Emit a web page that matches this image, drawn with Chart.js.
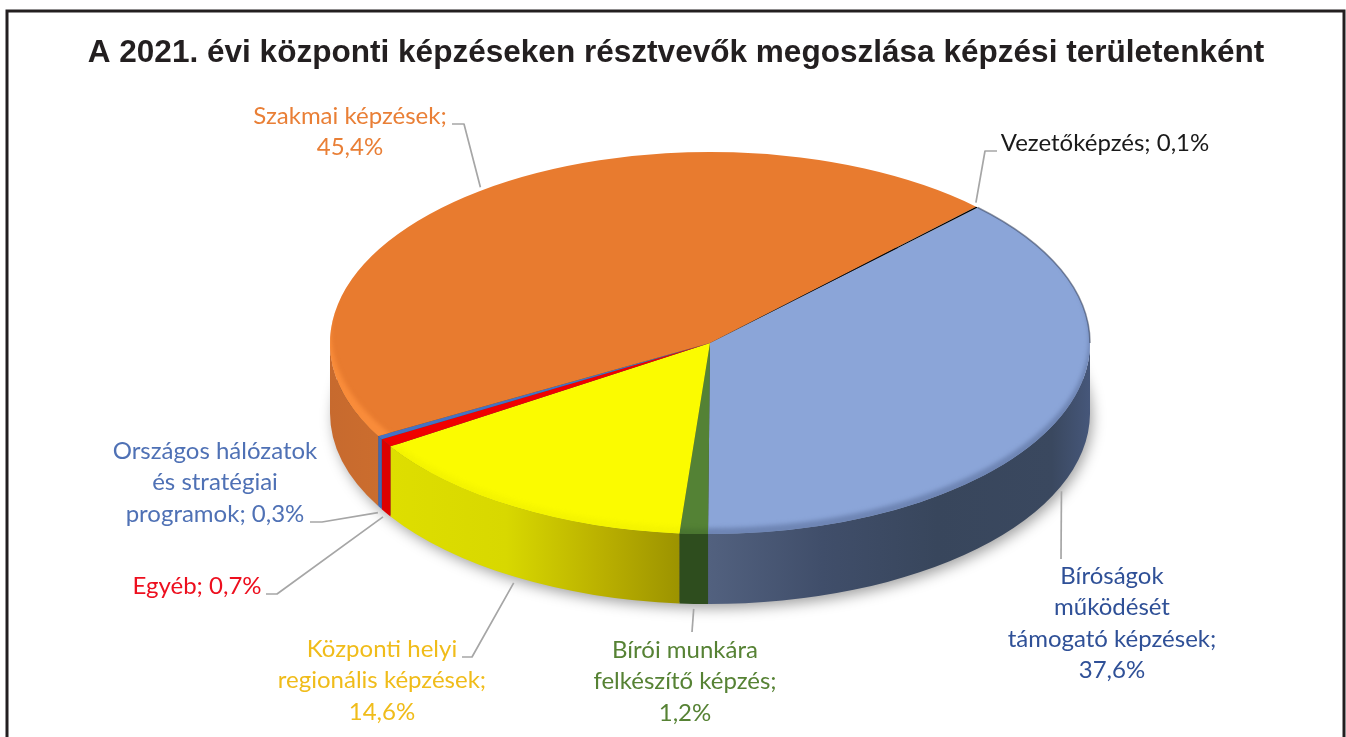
<!DOCTYPE html>
<html lang="hu"><head><meta charset="utf-8">
<style>html,body{margin:0;padding:0;background:#fff}canvas{display:block}</style>
<script src="https://cdn.jsdelivr.net/npm/chart.js@4"></script>
</head><body><canvas id="c" width="1346" height="737"></canvas>
<script>
// ---- data ----
const titleText = 'A 2021. évi központi képzéseken résztvevők megoszlása képzési területenként';
const categories = ['Bíróságok működését támogató képzések','Bírói munkára felkészítő képzés','Központi helyi regionális képzések','Egyéb','Országos hálózatok és stratégiai programok','Szakmai képzések','Vezetőképzés'];
const values = [37.6, 1.2, 14.6, 0.7, 0.3, 45.4, 0.1];
const labelLines = [
  ['Bíróságok','működését','támogató képzések;','37,6%'],
  ['Bírói munkára','felkészítő képzés;','1,2%'],
  ['Központi helyi','regionális képzések;','14,6%'],
  ['Egyéb; 0,7%'],
  ['Országos hálózatok','és stratégiai','programok; 0,3%'],
  ['Szakmai képzések;','45,4%'],
  ['Vezetőképzés; 0,1%']
];
// ---- styles ----
const topColors = ['#8BA5D8','#548235','#FBFB00','#F00000','#4472C4','#E87B2F','#000000'];
const textColors = ['#2F5097','#568234','#F0BC1A','#ED0F1E','#4F71B5','#E97F36','#1A1A1A'];
const sideStops = [
  [[0,'#52617F'],[.3,'#404E6A'],[.6,'#38465C'],[.9,'#3A485F'],[1,'#46577A']],
  [[0,'#2E4D1E'],[1,'#2E4D1E']],
  [[0,'#DEDE00'],[.4,'#D8D800'],[.75,'#B8AE00'],[1,'#9C9300']],
  [[0,'#DD0000'],[1,'#DD0000']],
  [[0,'#4069B5'],[1,'#4069B5']],
  [[0,'#C76A2E'],[.7,'#CA6C2E'],[1,'#CB6D2E']],
  [[0,'#000000'],[1,'#000000']]
];
const bevelColors = ['#6E85B4','#4A7530','#F4F400','#E80000','#4472C4','#F98C3A','#000000'];
const bevelSizes = [5,4,5,0,0,11,0];
// ---- layout ----
const PIE = {cx:710, cy:343, rx:380, tilt:191/380, depth:70};
const ROTATION = 44.8;
const FONT = '24px Lato';
const labelPos = [[1112,576],[685,650],[382,649],[197,586],[215,451],[350,116],[1105,143]];
const lineStep = 31.5;
const leaderStart = [[1061,559],[692,632],[462,657],[266,594],[310,522],[452,124],[997,151]];
const leaderKnee = [null,null,[472,657],[277,594],[322,522],[464,124],[985,151]];
const leaderNudge = [[.5,5],[0,5],[-1,6],[-3,4],[-2,5],[1,-4],[-1,-4.5]];

function frontRanges(a,b){
  const out=[];
  for(let k=-1;k<3;k++){
    const s=Math.max(a,k*2*Math.PI), e=Math.min(b,k*2*Math.PI+Math.PI);
    if(e>s) out.push([s,e]);
  }
  return out;
}
const pie3d = {
  id:'pie3d',
  beforeDraw(chart){
    const c=chart.ctx; c.save();
    c.strokeStyle='#231F20'; c.lineWidth=3;
    c.strokeRect(7,11,1337,800);
    c.restore();
  },
  beforeDatasetsDraw(chart){
    const c=chart.ctx, arcs=chart.getDatasetMeta(0).data;
    const {cx,cy,rx,tilt,depth}=PIE, ry=rx*tilt;
    c.save();
    c.shadowColor='rgba(0,0,0,.38)'; c.shadowBlur=14; c.shadowOffsetX=3; c.shadowOffsetY=5;
    c.fillStyle='#444';
    c.beginPath(); c.ellipse(cx,cy+depth,rx-1,ry-1,0,0,Math.PI*2); c.fill();
    c.restore();
    arcs.forEach((arc,i)=>{
      frontRanges(arc.startAngle,arc.endAngle).forEach(([s,e])=>{
        const x0=cx+rx*Math.cos(s), x1=cx+rx*Math.cos(e);
        const g=c.createLinearGradient(Math.min(x0,x1),0,Math.max(x0,x1)+.01,0);
        sideStops[i].forEach(([p,col])=>g.addColorStop(p,col));
        c.fillStyle=g;
        c.beginPath();
        c.ellipse(cx,cy,rx,ry,0,s,e);
        c.ellipse(cx,cy+depth,rx,ry,0,e,s,true);
        c.closePath(); c.fill();
      });
    });
  },
  beforeDatasetDraw(chart){
    const c=chart.ctx, a=chart.getDatasetMeta(0).data[0];
    c.save();
    c.translate(PIE.cx,PIE.cy); c.scale(1,PIE.tilt); c.translate(-a.x,-a.y);
  },
  afterDatasetDraw(chart){
    const c=chart.ctx, arcs=chart.getDatasetMeta(0).data;
    c.restore();
    const {cx,cy,rx,tilt}=PIE, ry=rx*tilt;
    arcs.forEach((arc,i)=>{
      if(!bevelSizes[i]) return;
      c.save();
      c.beginPath(); c.moveTo(cx,cy);
      c.ellipse(cx,cy,rx,ry,0,arc.startAngle,arc.endAngle);
      c.closePath(); c.clip();
      c.filter='blur(2px)';
      c.fillStyle=bevelColors[i];
      c.beginPath();
      c.ellipse(cx,cy,rx+6,ry+6,0,0,Math.PI*2);
      c.ellipse(cx,cy-bevelSizes[i],rx-1,ry-1,0,0,Math.PI*2);
      c.fill('evenodd');
      c.restore();
    });
  },
  afterDatasetsDraw(chart){
    const c=chart.ctx, arcs=chart.getDatasetMeta(0).data;
    const {cx,cy,rx,tilt,depth}=PIE, ry=rx*tilt;
    c.save();
    c.strokeStyle='rgba(50,60,85,.55)'; c.lineWidth=1.5;
    c.beginPath(); c.ellipse(cx,cy,rx,ry,0,arcs[0].startAngle,0); c.stroke();
    c.restore();
    arcs.forEach((arc,i)=>{
      const m=(arc.startAngle+arc.endAngle)/2, sn=Math.sin(m);
      const ax=cx+rx*Math.cos(m)+leaderNudge[i][0];
      const ay=cy+ry*sn+(sn>0?depth:0)+leaderNudge[i][1];
      c.save();
      c.strokeStyle='#A6A6A6'; c.lineWidth=1.7; c.lineJoin='round';
      c.beginPath(); c.moveTo(leaderStart[i][0],leaderStart[i][1]);
      if(leaderKnee[i]) c.lineTo(leaderKnee[i][0],leaderKnee[i][1]);
      c.lineTo(ax,ay); c.stroke();
      c.font=FONT; c.textAlign='center'; c.textBaseline='middle'; c.fillStyle=textColors[i];
      labelLines[i].forEach((t,k)=>c.fillText(t,labelPos[i][0],labelPos[i][1]+k*lineStep));
      c.restore();
    });
  }
};
new Chart(document.getElementById('c'),{
  type:'pie',
  data:{labels:categories,datasets:[{data:values,backgroundColor:topColors,borderWidth:0,radius:PIE.rx}]},
  options:{
    responsive:false,animation:false,rotation:ROTATION,
    layout:{padding:{left:6,right:0,top:0,bottom:0}},
    plugins:{
      legend:{display:false},tooltip:{enabled:false},
      title:{display:true,text:titleText,color:'#231F20',font:{family:'Liberation Sans',size:31.55,weight:'bold'},padding:{top:34.5,bottom:10}}
    }
  },
  plugins:[pie3d]
});
</script></body></html>
